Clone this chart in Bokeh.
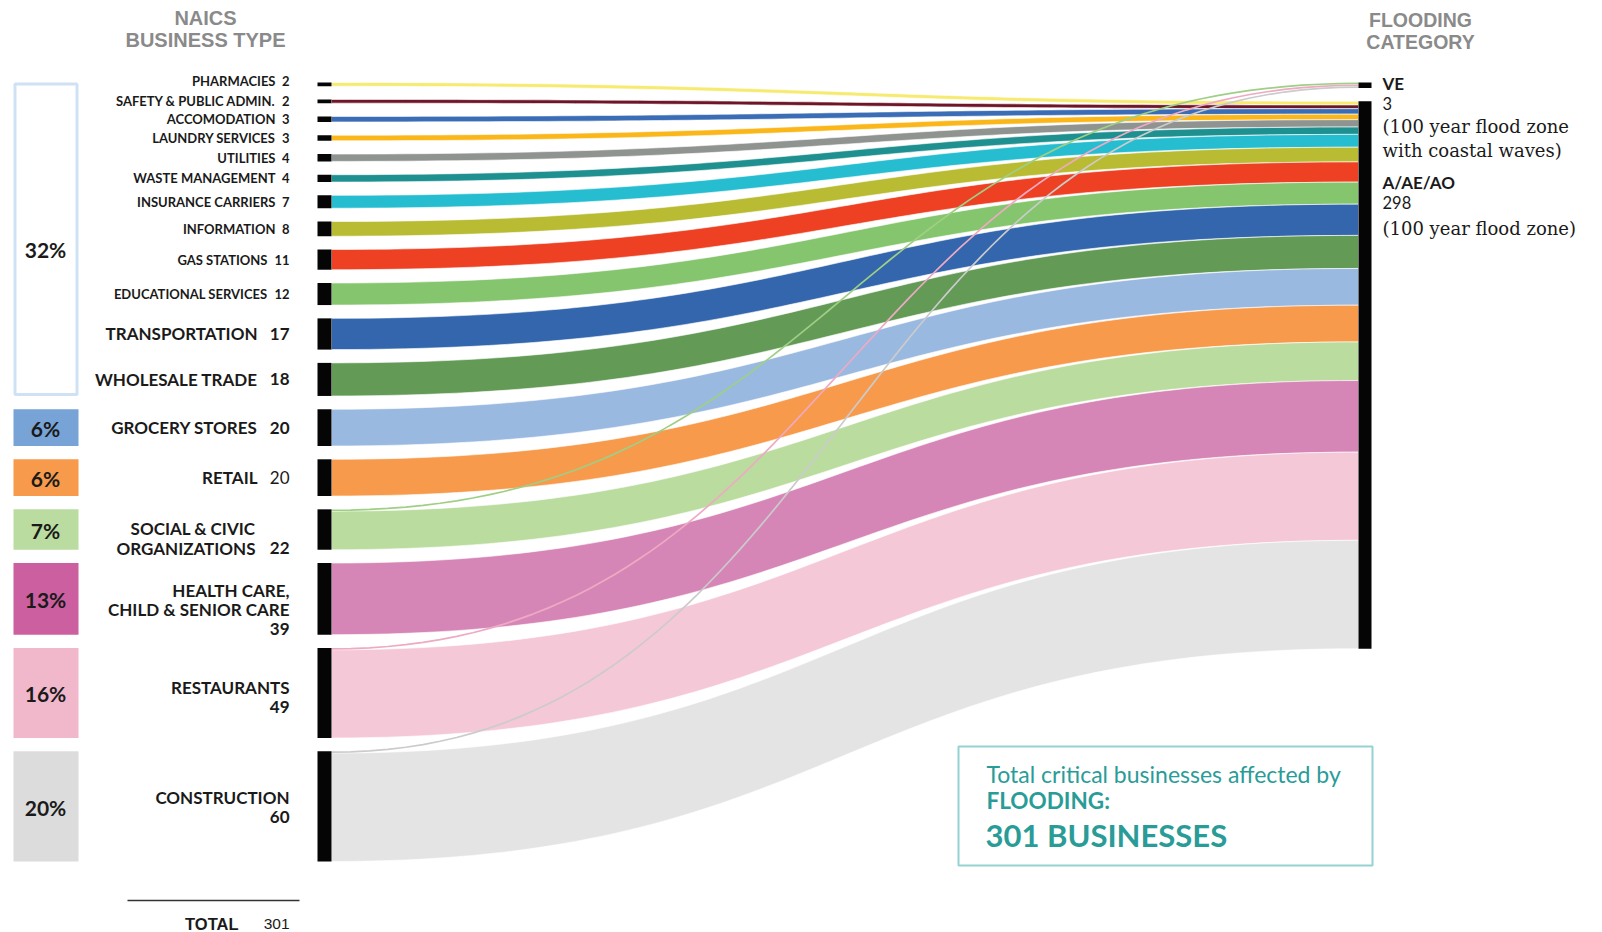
import numpy as np
from bokeh.plotting import figure
from bokeh.models import Range1d
from bokeh.embed import file_html
from bokeh.resources import INLINE
from bokeh.core.properties import value

# ---------------- data ----------------
businesses = ["PHARMACIES", "SAFETY & PUBLIC ADMIN.", "ACCOMODATION", "LAUNDRY SERVICES",
              "UTILITIES", "WASTE MANAGEMENT", "INSURANCE CARRIERS", "INFORMATION",
              "GAS STATIONS", "EDUCATIONAL SERVICES", "TRANSPORTATION", "WHOLESALE TRADE",
              "GROCERY STORES", "RETAIL", "SOCIAL & CIVIC\nORGANIZATIONS",
              "HEALTH CARE,\nCHILD & SENIOR CARE", "RESTAURANTS", "CONSTRUCTION"]
to_ve = [0, 0, 0, 0, 0, 0, 0, 0, 0, 0, 0, 0, 0, 0, 1, 0, 1, 1]
to_a = [2, 2, 3, 3, 4, 4, 7, 8, 11, 12, 17, 18, 20, 20, 21, 39, 48, 59]
colors = ["#f6ea6f", "#6e1627", "#3a6db5", "#fbb61a", "#8f9490", "#1f9090", "#27bdd0",
          "#b9bb33", "#ee4023", "#84c56e", "#3366ad", "#629a56", "#9ab9e0", "#f79a4b",
          "#badc9f", "#d686b6", "#f5c8d7", "#e3e4e3"]
ve_line_colors = {14: "#9fcf85", 16: "#eeaac3", 17: "#cbcbcb"}

targets = ["VE", "A/AE/AO"]
target_notes = [["(100 year flood zone", "with coastal waves)"], ["(100 year flood zone)"]]

pct_labels = ["32%", "6%", "6%", "7%", "13%", "16%", "20%"]
pct_first = [0, 12, 13, 14, 15, 16, 17]
pct_last = [11, 12, 13, 14, 15, 16, 17]
pct_fill = [None, "#77a3d6", "#f79a4b", "#bbdca0", "#cc5fa0", "#f1b8cb", "#dcdcdc"]

box_lines = ["Total critical businesses affected by", "FLOODING:", "301 BUSINESSES"]

# ---------------- layout ----------------
W, H = 1602, 932
n = len(businesses)
counts = [a + v for a, v in zip(to_a, to_ve)]
total = sum(counts)
top, bottom, gap = 82.0, 861.0, 13.3
k = (bottom - top - (n - 1) * gap) / total

xl0, xl1 = 317, 331
xr0, xr1 = 1358, 1371

node_top = []
y = top
for c in counts:
    node_top.append(y)
    y += c * k + gap
node_bot = [t + c * k for t, c in zip(node_top, counts)]

ve_tot, a_tot = sum(to_ve), sum(to_a)
ve_top = top
a_top = top + ve_tot * k + gap

p = figure(width=W, height=H, x_range=Range1d(0, W), y_range=Range1d(H, 0),
           x_axis_type=None, y_axis_type=None, toolbar_location=None,
           output_backend="svg", min_border=0, outline_line_color=None,
           background_fill_color="white", border_fill_color="white")
p.grid.visible = False


def bez(xa, ya, xb, yb, m=80):
    t = np.linspace(0, 1, m)
    xm = (xa + xb) / 2
    xs = (1 - t) ** 3 * xa + 3 * (1 - t) ** 2 * t * xm + 3 * (1 - t) * t ** 2 * xm + t ** 3 * xb
    ys = (1 - t) ** 3 * ya + 3 * (1 - t) ** 2 * t * ya + 3 * (1 - t) * t ** 2 * yb + t ** 3 * yb
    return xs, ys


# A flows
pxs, pys, pcol = [], [], []
ra = a_top
for i in range(n):
    h = to_a[i] * k
    ly = node_top[i] + to_ve[i] * k
    xt, yt = bez(xl1, ly, xr0, ra)
    xb, yb = bez(xl1, ly + h, xr0, ra + h)
    pxs.append(list(np.concatenate([xt, xb[::-1]])))
    pys.append(list(np.concatenate([yt, yb[::-1]])))
    pcol.append(colors[i])
    ra += h
p.patches(pxs, pys, fill_color=pcol, line_color="white", line_width=0.6)

# VE flows (thin lines)
rv = ve_top
for i in range(n):
    if to_ve[i] == 0:
        continue
    h = to_ve[i] * k
    xc, yc = bez(xl1, node_top[i] + h / 2, xr0, rv + h / 2)
    p.line(xc, yc, line_color=ve_line_colors[i], line_width=1.7)
    rv += h

# nodes
p.quad(left=[xl0] * n, right=[xl1] * n, top=node_top, bottom=node_bot,
       fill_color="#050505", line_color=None)
p.quad(left=[xr0, xr0], right=[xr1, xr1], top=[ve_top, a_top],
       bottom=[ve_top + ve_tot * k, a_top + a_tot * k], fill_color="#050505", line_color=None)

# percentage boxes
for lab, f, l, fc in zip(pct_labels, pct_first, pct_last, pct_fill):
    t, b = node_top[f], node_bot[l]
    if fc is None:
        p.quad(left=[14.5], right=[76.5], top=[t + 1.5], bottom=[b - 1.5], fill_color="white",
               line_color="#cfe2f3", line_width=3)
        cy = (t + b) / 2 + 10
    else:
        p.quad(left=[13], right=[78], top=[t], bottom=[b], fill_color=fc, line_color=None)
        cy = (t + b) / 2 + 1
    p.text(x=[45], y=[cy], text=[lab], text_font=value("Lato"), text_font_style="bold",
           text_font_size="21px", text_color="#1a1a1a", text_align="center",
           text_baseline="middle")


def txt(x, y, s, size, font="Lato", style="bold", color="#1a1a1a", align="right"):
    p.text(x=[x], y=[y], text=[s], text_font=value(font), text_font_style=style,
           text_font_size=size, text_color=color, text_align=align, text_baseline="middle")


# left labels
num_x = 289
lh = 19.4
for i, name in enumerate(businesses):
    lines = name.split("\n")
    cy = (node_top[i] + node_bot[i]) / 2
    small = i < 10
    if small:
        nd = len(str(counts[i]))
        ly = cy - 3 if i == 0 else cy
        txt(num_x - 8 * nd - 6, ly, lines[0], "13px")
        txt(num_x, ly, str(counts[i]), "13px")
        continue
    if counts[i] > 30:
        allL = lines + [str(counts[i])]
        off = 2 + 4.5 * (len(allL) - 1) if len(allL) == 3 else (4 if counts[i] < 55 else 1)
        y0 = cy + off - (len(allL) - 1) * lh / 2
        for j, s in enumerate(allL):
            txt(num_x, y0 + j * lh, s, "17px")
    elif len(lines) > 1:
        y0 = cy + 9 - (len(lines) - 1) * lh / 2
        for j, s in enumerate(lines):
            txt(255, y0 + j * lh, s, "17px")
        txt(num_x, y0 + (len(lines) - 1) * lh, str(counts[i]), "17px")
    else:
        txt(257, cy, lines[0], "17px")
        txt(num_x, cy, str(counts[i]), "17px", style="normal" if i == 13 else "bold")

# headers
hc = "#8a8a8a"
txt(205, 17, "NAICS", "20px", font="Liberation Sans", color=hc, align="center")
txt(205, 39, "BUSINESS TYPE", "20px", font="Liberation Sans", color=hc, align="center")
txt(1420, 19, "FLOODING", "19.5px", font="Liberation Sans", color=hc, align="center")
txt(1420, 41, "CATEGORY", "19.5px", font="Liberation Sans", color=hc, align="center")

# right labels
rx = 1382
for tname, ttot, notes, ty in zip(targets, [ve_tot, a_tot], target_notes, [ve_top, a_top]):
    base = ty + 1 if tname == "VE" else ty + 81
    txt(rx, base, tname, "17px", align="left")
    txt(rx, base + 20, str(ttot), "16.5px", style="normal", align="left")
    for j, s in enumerate(notes):
        txt(rx, base + 43 + (3 if len(notes) == 1 else 0) + j * 24, s, "18px",
            font="DejaVu Serif", style="normal", align="left")

# total line
p.line([127, 299], [900, 900], line_color="#333333", line_width=1.5)
txt(238, 923, "TOTAL", "16.5px", font="Liberation Sans")
txt(289, 923, str(total), "15.5px", font="Liberation Sans", style="normal")

# summary box
p.quad(left=[958], right=[1372], top=[746], bottom=[865], fill_color=None,
       line_color="#95d2d2", line_width=2)
teal = "#2a9c98"
txt(986, 773, box_lines[0], "23px", style="normal", color=teal, align="left")
txt(986, 800, box_lines[1], "22.5px", style="bold", color=teal, align="left")
txt(985, 834, box_lines[2], "31px", style="bold", color=teal, align="left")

open("out.html", "w").write(file_html(p, INLINE))
